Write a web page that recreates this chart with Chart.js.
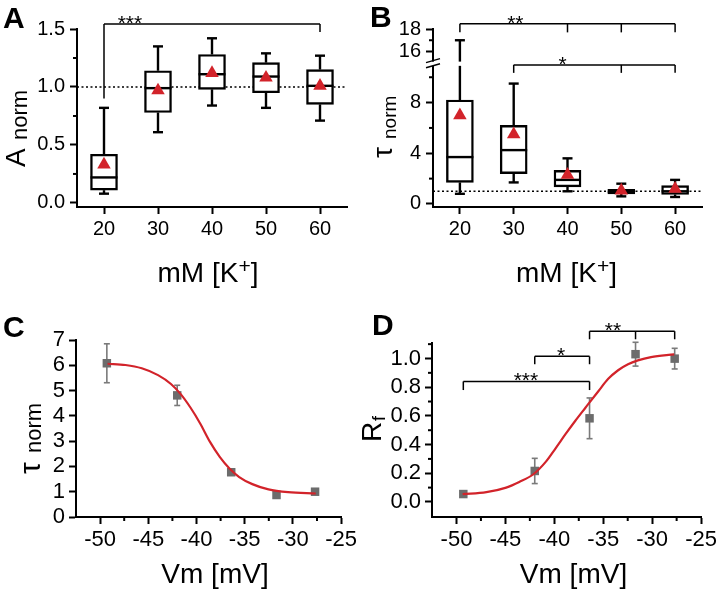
<!DOCTYPE html>
<html>
<head>
<meta charset="utf-8">
<script src="https://cdn.jsdelivr.net/npm/chart.js@4.4.1/dist/chart.umd.min.js"></script>
<style>
  body { margin: 0; background: #fff; width: 720px; height: 591px; position: relative; overflow: hidden; }
  canvas { position: absolute; }
</style>
</head>
<body>
<canvas id="cA" width="360" height="295" style="left:0;top:0"></canvas>
<canvas id="cB" width="360" height="295" style="left:360px;top:0"></canvas>
<canvas id="cC" width="360" height="291" style="left:0;top:300px"></canvas>
<canvas id="cD" width="360" height="291" style="left:360px;top:300px"></canvas>
<script>
// ---- data ----
var kConc = [20, 30, 40, 50, 60];
var kTicks = ['20', '30', '40', '50', '60'];

// A: normalised amplitude, box stats per [K+]
var ampLow = [0.08, 0.61, 0.84, 0.82, 0.71];
var ampQ1 = [0.11, 0.78, 0.98, 0.95, 0.85];
var ampMed = [0.22, 0.99, 1.11, 1.09, 1.01];
var ampQ3 = [0.42, 1.14, 1.28, 1.21, 1.15];
var ampHigh = [0.82, 1.35, 1.42, 1.29, 1.27];
var ampMean = [0.33, 0.97, 1.12, 1.08, 1.01];
var ampTicks = ['0.0', '0.5', '1.0', '1.5'];
var ampMinor = [0.25, 0.75, 1.25];

// B: normalised tau, box stats per [K+]
var tauLow = [0.8, 1.7, 1.0, 0.6, 0.55];
var tauQ1 = [1.7, 2.4, 1.35, 0.8, 0.75];
var tauMed = [3.7, 4.25, 1.9, 0.95, 1.0];
var tauQ3 = [8.2, 6.2, 2.65, 1.15, 1.45];
var tauHigh = [17, 9.5, 3.6, 1.6, 1.9];
var tauMean = [7.0, 5.5, 2.3, 1.05, 1.2];
var tauTicksLow = ['0', '4', '8'];
var tauTicksHigh = ['16', '18'];
var tauMinorLow = [2, 6, 10];
var tauMinorHigh = [17];
var tauBreak = [10.9, 15.1];

// C / D: voltage dependence
var vm = [-49.3, -42.0, -36.4, -31.7, -27.7];
var tauVm = [6.08, 4.81, 1.77, 0.87, 1.0];
var tauVmErr = [0.77, 0.4, 0.08, 0.08, 0.06];
var rf = [0.055, 0.216, 0.583, 1.03, 0.999];
var rfErr = [0.02, 0.088, 0.142, 0.083, 0.072];
var tauFitX = [-49.23, -47.37, -45.68, -43.99, -42.65, -41.64, -40.63, -39.62, -38.6, -37.59, -36.58, -35.57, -34.21, -32.53, -30.5, -27.63];
var tauFitY = [6.06, 6.01, 5.88, 5.61, 5.26, 4.86, 4.33, 3.70, 2.97, 2.38, 1.92, 1.58, 1.30, 1.09, 0.98, 0.93];
var rfFitX = [-49.37, -46.94, -44.92, -43.58, -42.14, -40.88, -39.87, -38.86, -37.85, -36.84, -35.5, -34.49, -33.48, -32.47, -31.46, -30.12, -27.75];
var rfFitY = [0.054, 0.068, 0.100, 0.139, 0.193, 0.279, 0.374, 0.472, 0.566, 0.655, 0.772, 0.858, 0.918, 0.96, 0.987, 1.01, 1.029];
var vmTicks = ['-50', '-45', '-40', '-35', '-30', '-25'];
var vmMinor = [-47.5, -42.5, -37.5, -32.5, -27.5];
var tauVmTicks = ['0', '1', '2', '3', '4', '5', '6', '7'];
var rfTicks = ['0.0', '0.2', '0.4', '0.6', '0.8', '1.0'];
var rfMinor = [0.1, 0.3, 0.5, 0.7, 0.9, 1.1];

// significance brackets
var ampSig = [{ xs: [20, 60], y: 1.543, ends: [0.9, 1.475], label: '***', at: 24.8 }];
var tauSig = [
  { xs: [20, 40, 50, 60], y: 18.47, ends: [17.7, 17.7, 17.7, 17.7], label: '**', at: 30.3 },
  { xs: [30, 50, 60], y: 14.81, ends: [14.1, 14.1, 14.1], label: '*', at: 39.1 }
];
var rfSig = [
  { xs: [-36.4, -31.7, -27.7], y: 1.19, ends: [1.134, 1.134, 1.134], label: '**', at: -34 },
  { xs: [-42.0, -36.4], y: 1.015, ends: [0.96, 0.96], label: '*', at: -39.3 },
  { xs: [-49.3, -36.4], y: 0.84, ends: [0.78, 0.78], label: '***', at: -42.9 }
];

// ---- drawing helpers ----
var FONT = "'Liberation Sans', Arial, Helvetica, sans-serif";
var RED = '#d2232a';
var GREY = '#6c6c6c';
Chart.defaults.font.family = FONT;

function axis(pos, min, max, labels, size, pad, fs) {
  return {
    type: 'linear', position: pos, min: min, max: max, offset: false,
    afterBuildTicks: function (s) { s.ticks = labels.map(function (t) { return { value: Number(t) }; }); },
    afterFit: function (s) { if (pos === 'left') s.width = size; else s.height = size; },
    ticks: {
      autoSkip: false, maxRotation: 0, padding: pad, color: '#000',
      font: { family: FONT, size: fs || 20 },
      callback: function (v, i) { return labels[i]; }
    },
    grid: { drawOnChartArea: false, offset: false, tickLength: 7, tickWidth: 2, tickColor: '#000' },
    border: { color: '#000', width: 2 }
  };
}

function line(ctx, x1, y1, x2, y2) {
  ctx.beginPath(); ctx.moveTo(x1, y1); ctx.lineTo(x2, y2); ctx.stroke();
}

function minor(ctx, scale, vals, horiz) {
  ctx.save(); ctx.strokeStyle = '#000'; ctx.lineWidth = 2;
  vals.forEach(function (v) {
    var p = scale.getPixelForValue(v);
    if (horiz) line(ctx, p, scale.top, p, scale.top + 4);
    else line(ctx, scale.right - 4, p, scale.right, p);
  });
  ctx.restore();
}

function rotText(ctx, text, size, bx, by) {
  ctx.save(); ctx.translate(bx, by); ctx.rotate(-Math.PI / 2);
  ctx.font = size + 'px ' + FONT; ctx.fillStyle = '#000';
  ctx.textAlign = 'left'; ctx.textBaseline = 'alphabetic';
  ctx.fillText(text, 0, 0); ctx.restore();
}

function xTitle(ctx, parts, cx, base) {
  ctx.save(); ctx.fillStyle = '#000'; ctx.textBaseline = 'alphabetic'; ctx.textAlign = 'left';
  var w = 0;
  parts.forEach(function (p) { ctx.font = p.size + 'px ' + FONT; p.w = ctx.measureText(p.t).width; w += p.w; });
  var x = cx - w / 2;
  parts.forEach(function (p) { ctx.font = p.size + 'px ' + FONT; ctx.fillText(p.t, x, base - (p.rise || 0)); x += p.w; });
  ctx.restore();
}

function panelLabel(ctx, t, x, y) {
  ctx.save(); ctx.font = 'bold 30px ' + FONT; ctx.fillStyle = '#000';
  ctx.textBaseline = 'alphabetic'; ctx.fillText(t, x, y); ctx.restore();
}

function brackets(ctx, xs, ys, list) {
  ctx.save(); ctx.strokeStyle = '#000'; ctx.fillStyle = '#000'; ctx.lineWidth = 1.5;
  list.forEach(function (b) {
    var y = ys.getPixelForValue(b.y);
    line(ctx, xs.getPixelForValue(b.xs[0]), y, xs.getPixelForValue(b.xs[b.xs.length - 1]), y);
    b.xs.forEach(function (v, j) {
      var p = xs.getPixelForValue(v);
      line(ctx, p, y, p, ys.getPixelForValue(b.ends[j]));
    });
    ctx.font = '21px ' + FONT; ctx.textAlign = 'center'; ctx.textBaseline = 'alphabetic';
    ctx.fillText(b.label, xs.getPixelForValue(b.at), y + 6);
  });
  ctx.restore();
}

function dotted(ctx, chart, ys, v) {
  var y = ys.getPixelForValue(v);
  ctx.save(); ctx.strokeStyle = '#000'; ctx.lineWidth = 1.6; ctx.setLineDash([2, 2.5]);
  line(ctx, chart.chartArea.left, y, chart.chartArea.right, y);
  ctx.restore();
}

function whiskers(chart, s, y, yUp) {
  var ctx = chart.ctx, xs = chart.scales.x, half = 13.5, cap = 5;
  ctx.save(); ctx.strokeStyle = '#000'; ctx.lineWidth = 2.4;
  s.x.forEach(function (k, i) {
    var px = xs.getPixelForValue(k);
    var m = y.getPixelForValue(s.med[i]);
    line(ctx, px - half, m, px + half, m);
    var lo = y.getPixelForValue(s.lo[i]);
    line(ctx, px, y.getPixelForValue(s.q1[i]), px, lo);
    line(ctx, px - cap, lo, px + cap, lo);
    var q3 = y.getPixelForValue(s.q3[i]), hi;
    if (yUp && s.hi[i] > tauBreak[0]) {
      line(ctx, px, q3, px, y.getPixelForValue(tauBreak[0]));
      hi = yUp.getPixelForValue(s.hi[i]);
      line(ctx, px, yUp.getPixelForValue(tauBreak[1]), px, hi);
    } else {
      hi = y.getPixelForValue(s.hi[i]);
      line(ctx, px, q3, px, hi);
    }
    line(ctx, px - cap, hi, px + cap, hi);
  });
  ctx.restore();
}

function errBars(chart, xv, yv, ev) {
  var ctx = chart.ctx, xs = chart.scales.x, ys = chart.scales.y;
  ctx.save(); ctx.strokeStyle = '#7a7a7a'; ctx.lineWidth = 1.6;
  xv.forEach(function (x, i) {
    var px = xs.getPixelForValue(x);
    var t = ys.getPixelForValue(yv[i] + ev[i]), b = ys.getPixelForValue(yv[i] - ev[i]);
    line(ctx, px, t, px, b);
    line(ctx, px - 3, t, px + 3, t);
    line(ctx, px - 3, b, px + 3, b);
  });
  ctx.restore();
}

function pts(xv, yv) { return xv.map(function (x, i) { return { x: x, y: yv[i] }; }); }

var baseOpts = {
  responsive: false, animation: false, events: [],
  plugins: { legend: { display: false }, tooltip: { enabled: false } }
};

function boxDatasets(low, q1, q3, mean) {
  return [
    {
      type: 'bar', data: kConc.map(function (k, i) { return { x: k, y: [q1[i], q3[i]] }; }),
      backgroundColor: '#fff', borderColor: '#000', borderWidth: 2.4, borderSkipped: false,
      barThickness: 27, order: 2
    },
    {
      type: 'scatter', data: pts(kConc, mean), pointStyle: 'triangle', pointRadius: 7.8,
      backgroundColor: RED, borderWidth: 0, order: 1
    }
  ];
}

// ---- panel A ----
new Chart(document.getElementById('cA'), {
  type: 'bar',
  data: { datasets: boxDatasets(ampLow, ampQ1, ampQ3, ampMean) },
  options: Object.assign({}, baseOpts, {
    layout: { autoPadding: false, padding: { left: 27, right: 13, top: 29, bottom: 38 } },
    scales: { x: axis('bottom', 15, 65, kTicks, 50, 3), y: axis('left', -0.035, 1.5, ampTicks, 50, 5) }
  }),
  plugins: [{
    id: 'panelA',
    beforeDatasetsDraw: function (c) { dotted(c.ctx, c, c.scales.y, 1.0); },
    afterDatasetDraw: function (c, args) {
      if (args.index === 0) whiskers(c, { x: kConc, lo: ampLow, q1: ampQ1, med: ampMed, q3: ampQ3, hi: ampHigh }, c.scales.y);
    },
    afterDraw: function (c) {
      var ctx = c.ctx;
      minor(ctx, c.scales.y, ampMinor, false);
      brackets(ctx, c.scales.x, c.scales.y, ampSig);
      xTitle(ctx, [{ t: 'mM [K', size: 28 }, { t: '+', size: 21, rise: 9 }, { t: ']', size: 28 }], 208, 282);
      rotText(ctx, 'A', 28, 25, 167);
      rotText(ctx, 'norm', 22, 27, 140);
      panelLabel(ctx, 'A', 3, 28);
    }
  }]
});

// ---- panel B (broken y axis) ----
var yLowB = Object.assign(axis('left', -0.24, 11.02, tauTicksLow, 50, 5), { stack: 'tau', stackWeight: 142.2 });
var yHighB = Object.assign(axis('left', 14.86, 18, tauTicksHigh, 50, 5), { stack: 'tau', stackWeight: 35.2 });
new Chart(document.getElementById('cB'), {
  type: 'bar',
  data: { datasets: boxDatasets(tauLow, tauQ1, tauQ3, tauMean) },
  options: Object.assign({}, baseOpts, {
    layout: { autoPadding: false, padding: { left: 23, right: 18, top: 29, bottom: 38 } },
    scales: { x: axis('bottom', 15, 65, kTicks, 50, 3), y: yLowB, y2: yHighB }
  }),
  plugins: [{
    id: 'panelB',
    beforeDatasetsDraw: function (c) { dotted(c.ctx, c, c.scales.y, 1.0); },
    afterDatasetDraw: function (c, args) {
      if (args.index === 0) whiskers(c, { x: kConc, lo: tauLow, q1: tauQ1, med: tauMed, q3: tauQ3, hi: tauHigh }, c.scales.y, c.scales.y2);
    },
    afterDraw: function (c) {
      var ctx = c.ctx, L = c.chartArea.left;
      minor(ctx, c.scales.y, tauMinorLow, false);
      minor(ctx, c.scales.y2, tauMinorHigh, false);
      var t = c.scales.y2.getPixelForValue(tauBreak[1]), b = c.scales.y.getPixelForValue(tauBreak[0]);
      ctx.save();
      ctx.fillStyle = '#fff'; ctx.fillRect(L - 9, t, 12, b - t);
      ctx.strokeStyle = '#000'; ctx.lineWidth = 1.5;
      line(ctx, L - 7, t + 1, L + 7, t - 3);
      line(ctx, L - 7, b + 2, L + 7, b - 2);
      ctx.restore();
      brackets(ctx, c.scales.x, c.scales.y2, tauSig);
      xTitle(ctx, [{ t: 'mM [K', size: 28 }, { t: '+', size: 21, rise: 9 }, { t: ']', size: 28 }], 206.5, 282);
      rotText(ctx, '\u03c4', 28, 32, 158);
      rotText(ctx, 'norm', 19, 36, 139);
      panelLabel(ctx, 'B', 10, 27);
    }
  }]
});

// ---- panels C and D ----
function curveChart(id, fitX, fitY, yv, ev, yMin, yMax, yTicks, pad, extra) {
  return new Chart(document.getElementById(id), {
    type: 'scatter',
    data: {
      datasets: [
        {
          type: 'line', data: pts(fitX, fitY), borderColor: RED, borderWidth: 2.2, pointRadius: 0,
          tension: 0.4, cubicInterpolationMode: 'monotone', fill: false, order: 1
        },
        { type: 'scatter', data: pts(vm, yv), pointStyle: 'rect', pointRadius: 6, backgroundColor: GREY, borderWidth: 0, order: 2 }
      ]
    },
    options: Object.assign({}, baseOpts, {
      layout: { autoPadding: false, padding: pad },
      scales: { x: axis('bottom', -52.5, -25, vmTicks, 50, 3, 22), y: axis('left', yMin, yMax, yTicks, 50, 4, 22) }
    }),
    plugins: [{
      id: id + 'p',
      beforeDatasetsDraw: function (c) { errBars(c, vm, yv, ev); },
      afterDraw: function (c) { minor(c.ctx, c.scales.x, vmMinor, true); extra(c, c.ctx); }
    }]
  });
}

curveChart('cC', tauFitX, tauFitY, tauVm, tauVmErr, 0, 7, tauVmTicks,
  { left: 26, right: 11, top: 40, bottom: 24 },
  function (c, ctx) {
    xTitle(ctx, [{ t: 'Vm [mV]', size: 28 }], 215, 283);
    rotText(ctx, '\u03c4', 30, 40, 174);
    rotText(ctx, 'norm', 22, 41, 153);
    panelLabel(ctx, 'C', 3, 37);
  });

curveChart('cD', rfFitX, rfFitY, rf, rfErr, -0.105, 1.108, rfTicks,
  { left: 22, right: 16, top: 43, bottom: 24 },
  function (c, ctx) {
    minor(ctx, c.scales.y, rfMinor, false);
    brackets(ctx, c.scales.x, c.scales.y, rfSig);
    xTitle(ctx, [{ t: 'Vm [mV]', size: 28 }], 213.5, 283);
    rotText(ctx, 'R', 28, 21, 142);
    rotText(ctx, 'f', 18, 25, 121);
    panelLabel(ctx, 'D', 12, 35);
  });
</script>
</body>
</html>
